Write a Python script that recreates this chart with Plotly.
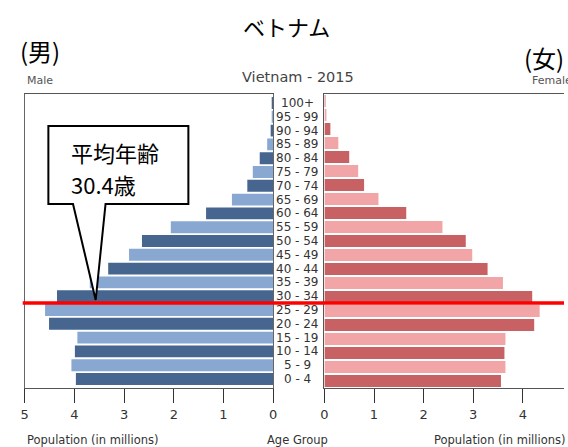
import plotly.graph_objects as go

W, H = 568, 447

age_groups = ["0 - 4", "5 - 9", "10 - 14", "15 - 19", "20 - 24", "25 - 29", "30 - 34",
              "35 - 39", "40 - 44", "45 - 49", "50 - 54", "55 - 59", "60 - 64", "65 - 69",
              "70 - 74", "75 - 79", "80 - 84", "85 - 89", "90 - 94", "95 - 99", "100+"]
male = [3.97, 4.06, 3.99, 3.94, 4.51, 4.59, 4.35, 3.69, 3.32, 2.90, 2.64, 2.06, 1.35, 0.83,
        0.52, 0.41, 0.27, 0.12, 0.05, 0.02, 0.01]
female = [3.56, 3.65, 3.63, 3.65, 4.23, 4.34, 4.19, 3.60, 3.29, 2.98, 2.85, 2.38, 1.65, 1.09,
          0.80, 0.68, 0.50, 0.28, 0.12, 0.04, 0.02]
left_ticks = [0, 1, 2, 3, 4, 5]
right_ticks = [0, 1, 2, 3, 4]

m_dark, m_light = "#46668f", "#88a8d1"
f_dark, f_light = "#c86163", "#f1a5a7"
m_colors = [m_dark if i % 2 == 0 else m_light for i in range(len(age_groups))]
f_colors = [f_dark if i % 2 == 0 else f_light for i in range(len(age_groups))]

def px(x):
    return x / W

def py(y):
    return 1 - y / H

fig = go.Figure()
fig.add_trace(go.Bar(x=male, y=age_groups, orientation="h", marker=dict(color=m_colors, line=dict(width=0)),
                     xaxis="x", yaxis="y", showlegend=False, hoverinfo="x+y"))
fig.add_trace(go.Bar(x=female, y=age_groups, orientation="h", marker=dict(color=f_colors, line=dict(width=0)),
                     xaxis="x2", yaxis="y2", showlegend=False, hoverinfo="x+y"))

EN = "DejaVu Sans"
JP = "Noto Sans CJK JP"
ydom = [py(388), py(94)]
axis_common = dict(showgrid=False, zeroline=False, showline=True, linecolor="#555", linewidth=1,
                   ticks="outside", ticklen=14, tickcolor="#333", tickwidth=1,
                   tickfont=dict(family=EN, size=13, color="#333"), mirror=True, fixedrange=True)

fig.update_layout(
    width=W, height=H, margin=dict(l=0, r=0, t=0, b=0),
    paper_bgcolor="white", plot_bgcolor="white", bargap=0.14,
    xaxis=dict(domain=[px(21), px(273)], range=[5, 0], tickvals=left_ticks, anchor="y", **axis_common),
    xaxis2=dict(domain=[px(325), 1], range=[0, (568 - 325) / 50.3], tickvals=right_ticks, anchor="y2",
                **axis_common),
    yaxis=dict(domain=ydom, anchor="x", type="category", categoryorder="array", categoryarray=age_groups,
               showticklabels=False, showline=True, mirror=True, linecolor="#666", showgrid=False,
               zeroline=False, fixedrange=True),
    yaxis2=dict(domain=ydom, anchor="x2", type="category", categoryorder="array", categoryarray=age_groups,
                showticklabels=False, showline=True, mirror=False, linecolor="#555", showgrid=False,
                zeroline=False, fixedrange=True),
)

ann = []
for a in age_groups:
    ann.append(dict(x=px(298), y=a, xref="paper", yref="y", text=a, showarrow=False,
                    xanchor="center", yanchor="middle", font=dict(family=EN, size=12, color="#333")))

def txt(x, y, t, size, family=EN, color="#333", xanchor="center"):
    ann.append(dict(x=px(x), y=py(y), xref="paper", yref="paper", text=t, showarrow=False,
                    xanchor=xanchor, yanchor="middle", font=dict(family=family, size=size, color=color)))

txt(287, 26, "ベトナム", 22, JP, "black")
txt(14, 51, "(男)", 24, JP, "black", "left")
txt(525, 57, "(女)", 24, JP, "black", "left")
txt(21, 80, "Male", 11, EN, "#555", "left")
txt(534, 80, "Female", 11, EN, "#555", "left")
txt(298, 77, "Vietnam - 2015", 14.5, EN, "#444")
txt(21, 440, "Population (in millions)", 11.5, EN, "#333", "left")
txt(434, 440, "Population (in millions)", 11.5, EN, "#333", "left")
txt(298, 440, "Age Group", 11.5, EN, "#333")
txt(66, 152, "平均年齢", 22, JP, "black", "left")
txt(66, 184, "30.4歳", 22, JP, "black", "left")
fig.update_layout(annotations=ann)

pts = [(45, 126), (187, 126), (187, 204), (103, 204), (93, 300), (70, 204), (45, 204)]
path = "M " + " L ".join(f"{px(x):.5f},{py(y):.5f}" for x, y in pts) + " Z"
fig.update_layout(shapes=[
    dict(type="path", path=path, xref="paper", yref="paper", fillcolor="white",
         line=dict(color="black", width=2), layer="above"),
    dict(type="line", x0=px(19), x1=1, y0=py(303), y1=py(303), xref="paper", yref="paper",
         line=dict(color="#ff0000", width=3.5), layer="above"),
])

fig.write_html("out.html", config={"displayModeBar": False},
               post_script="document.body.style.margin='0px';document.body.style.overflow='hidden';")
